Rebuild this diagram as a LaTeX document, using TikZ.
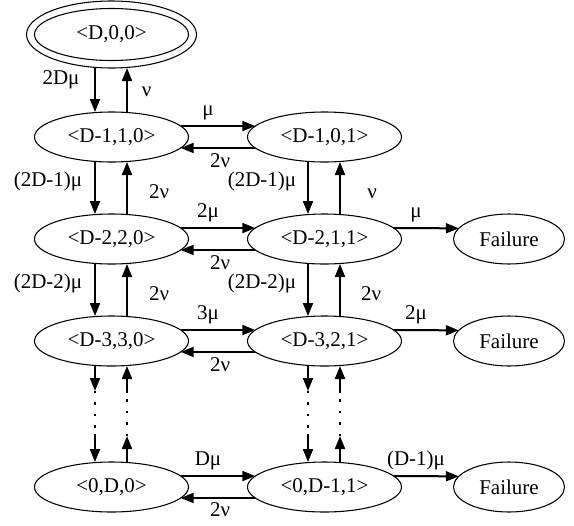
\documentclass[tikz,border=0pt]{standalone}
\usepackage{fontspec}
\setmainfont{Liberation Serif}
\usetikzlibrary{shapes.geometric,arrows.meta}
\tikzset{
  st/.style={ellipse, draw, line width=0.8pt, minimum width=115.5pt, minimum height=37.5pt, inner sep=0pt, outer sep=0pt},
  fail/.style={st, minimum width=83.25pt},
  arr/.style={line width=1.5pt, -{Triangle[length=9.75pt,width=7.5pt]}},
  dotline/.style={line width=1.6pt, dash pattern=on 1.6pt off 7pt},
  lbl/.style={anchor=base, inner sep=0pt}
}
\begin{document}
\begin{tikzpicture}[x=0.75pt, y=-0.75pt, font=\fontsize{15.75}{18}\selectfont]
\useasboundingbox (0,0) rectangle (574,525);
% nodes
\node[st, minimum width=127.5pt, minimum height=50.25pt] (A) at (111.5,34.5) {<D,0,0>};
\draw[line width=0.8pt] (A.center) ellipse [x radius=57.75pt, y radius=19.5pt];
\node[st] (B) at (111.5,137) {<D-1,1,0>};
\node[st] (C) at (324.5,137) {<D-1,0,1>};
\node[st] (D) at (111.5,239) {<D-2,2,0>};
\node[st] (E) at (324.5,239) {<D-2,1,1>};
\node[fail] (F1) at (509,239) {Failure};
\node[st] (G) at (111.5,341) {<D-3,3,0>};
\node[st] (H) at (324.5,341) {<D-3,2,1>};
\node[fail] (F2) at (509,341) {Failure};
\node[st] (I) at (111.5,487) {<0,D,0>};
\node[st] (J) at (324.5,487) {<0,D-1,1>};
\node[fail] (F3) at (509,487) {Failure};
% vertical arrows
\foreach \up/\lo in {A/B, B/D, D/G, C/E, E/H} {
  \draw[arr] ([xshift=-12.375pt]\up.south) -- ([xshift=-12.375pt]\lo.north);
  \draw[arr] ([xshift=11.625pt]\lo.north) -- ([xshift=11.625pt]\up.south);
}
% horizontal arrows
\foreach \lt/\rt in {B/C, D/E, G/H, I/J} {
  \draw[arr] (\lt.9) -- (\rt.171);
  \draw[arr] (\rt.189) -- (\lt.351);
}
\draw[arr] (E.9) -- (F1.168);
\draw[arr] (H.9) -- (F2.168);
\draw[arr] (J.9) -- (F3.168);
% dotted continuation
\coordinate (ld1) at (95,391);   \coordinate (ld2) at (95,434);
\coordinate (lu1) at (127,393);  \coordinate (lu2) at (127,436);
\coordinate (rd1) at (308,391);  \coordinate (rd2) at (308,434);
\coordinate (ru1) at (340,393);  \coordinate (ru2) at (340,436);
\draw[arr] ([xshift=-12.375pt]G.south) -- (ld1);
\draw[dotline] (ld1) -- (ld2);
\draw[arr] (ld2) -- ([xshift=-12.375pt]I.north);
\draw[arr] ([xshift=11.625pt]I.north) -- (lu2);
\draw[dotline] (lu2) -- (lu1);
\draw[arr] (lu1) -- ([xshift=11.625pt]G.south);
\draw[arr] ([xshift=-12.375pt]H.south) -- (rd1);
\draw[dotline] (rd1) -- (rd2);
\draw[arr] (rd2) -- ([xshift=-12.375pt]J.north);
\draw[arr] ([xshift=11.625pt]J.north) -- (ru2);
\draw[dotline] (ru2) -- (ru1);
\draw[arr] (ru1) -- ([xshift=11.625pt]H.south);
% labels
\node[lbl] (l1) at (61,84) {2Dμ};
\node[lbl] (l2) at (146.5,96) {ν};
\node[lbl] (l3) at (208,115) {μ};
\node[lbl] (l4) at (220,167) {2ν};
\node[lbl] (l5) at (48,186) {(2D-1)μ};
\node[lbl] (l6) at (159,198) {2ν};
\node[lbl] (l7) at (262,186) {(2D-1)μ};
\node[lbl] (l8) at (372,198) {ν};
\node[lbl] (l9) at (208,217) {2μ};
\node[lbl] (l10) at (220,269) {2ν};
\node[lbl] (l11) at (416,217) {μ};
\node[lbl] (l12) at (48,288) {(2D-2)μ};
\node[lbl] (l13) at (159,300) {2ν};
\node[lbl] (l14) at (262,288) {(2D-2)μ};
\node[lbl] (l15) at (371,300) {2ν};
\node[lbl] (l16) at (208,319) {3μ};
\node[lbl] (l17) at (220,371) {2ν};
\node[lbl] (l18) at (416,319) {2μ};
\node[lbl] (l19) at (208,465) {Dμ};
\node[lbl] (l20) at (220,516) {2ν};
\node[lbl] (l21) at (416,465) {(D-1)μ};
\end{tikzpicture}
\end{document}
